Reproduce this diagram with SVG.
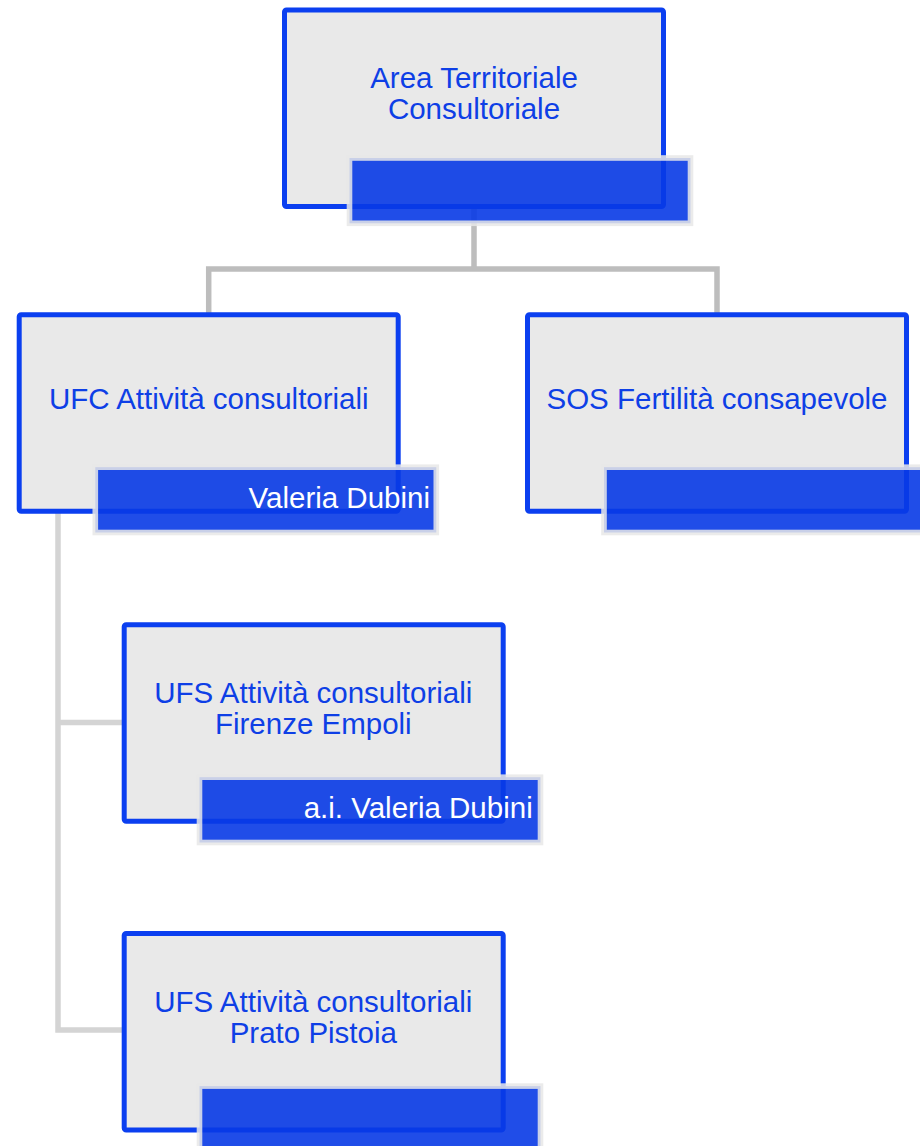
<svg xmlns="http://www.w3.org/2000/svg" width="920" height="1146" viewBox="0 0 920 1146">
  <style>
    .box { fill: #e9e9e9; stroke: #0b3ff0; stroke-width: 5; }
    .bar { fill: rgba(8, 58, 230, 0.9); stroke: rgba(232, 232, 232, 0.85); stroke-width: 5.6; }
    .title { font-family: "Liberation Sans", Arial, sans-serif; font-size: 29.5px; fill: #0e3fe6; text-anchor: middle; }
    .who { font-family: "Liberation Sans", Arial, sans-serif; font-size: 29.5px; fill: #ffffff; text-anchor: end; }
    .link-top { fill: none; stroke: #bdbdbd; stroke-width: 5.5; }
    .link-low { fill: none; stroke: #d4d4d4; stroke-width: 5.5; }
  </style>
  <rect width="920" height="1146" fill="#ffffff"/>

  <!-- connectors -->
  <g id="connectors">
    <path class="link-top" d="M474 207 V269 M208.7 314 V269 H717 V314"/>
    <path class="link-low" d="M58 511 V1030 H124 M58 722.5 H124"/>
  </g>

  <!-- Area Territoriale Consultoriale -->
  <g id="node-area">
    <rect class="box" x="284.5" y="10" width="379" height="196.5" rx="2"/>
    <text class="title" x="474" y="88.3">Area Territoriale</text>
    <text class="title" x="474" y="119.3">Consultoriale</text>
    <rect class="bar" x="349.5" y="158" width="341" height="65.3"/>
  </g>

  <!-- UFC Attività consultoriali -->
  <g id="node-ufc">
    <rect class="box" x="19.2" y="314.8" width="379" height="196.5" rx="2"/>
    <text class="title" x="208.8" y="409">UFC Attività consultoriali</text>
    <rect class="bar" x="95.3" y="467.2" width="341" height="65.3"/>
    <text class="who" x="430" y="508.3">Valeria Dubini</text>
  </g>

  <!-- SOS Fertilità consapevole -->
  <g id="node-sos">
    <rect class="box" x="527.5" y="314.8" width="379" height="196.5" rx="2"/>
    <text class="title" x="717" y="409">SOS Fertilità consapevole</text>
    <rect class="bar" x="604" y="467.2" width="341" height="65.3"/>
  </g>

  <!-- UFS Firenze Empoli -->
  <g id="node-ufs-fe">
    <rect class="box" x="124.2" y="624.8" width="379" height="196.5" rx="2"/>
    <text class="title" x="313.3" y="702.7">UFS Attività consultoriali</text>
    <text class="title" x="313.3" y="733.5">Firenze Empoli</text>
    <rect class="bar" x="199.5" y="777.2" width="341" height="65.3"/>
    <text class="who" x="532.7" y="818.3">a.i. Valeria Dubini</text>
  </g>

  <!-- UFS Prato Pistoia -->
  <g id="node-ufs-pp">
    <rect class="box" x="124.2" y="933.5" width="379" height="196.5" rx="2"/>
    <text class="title" x="313.3" y="1011.7">UFS Attività consultoriali</text>
    <text class="title" x="313.3" y="1042.5">Prato Pistoia</text>
    <rect class="bar" x="199.5" y="1086.1" width="341" height="65.3"/>
  </g>
</svg>
